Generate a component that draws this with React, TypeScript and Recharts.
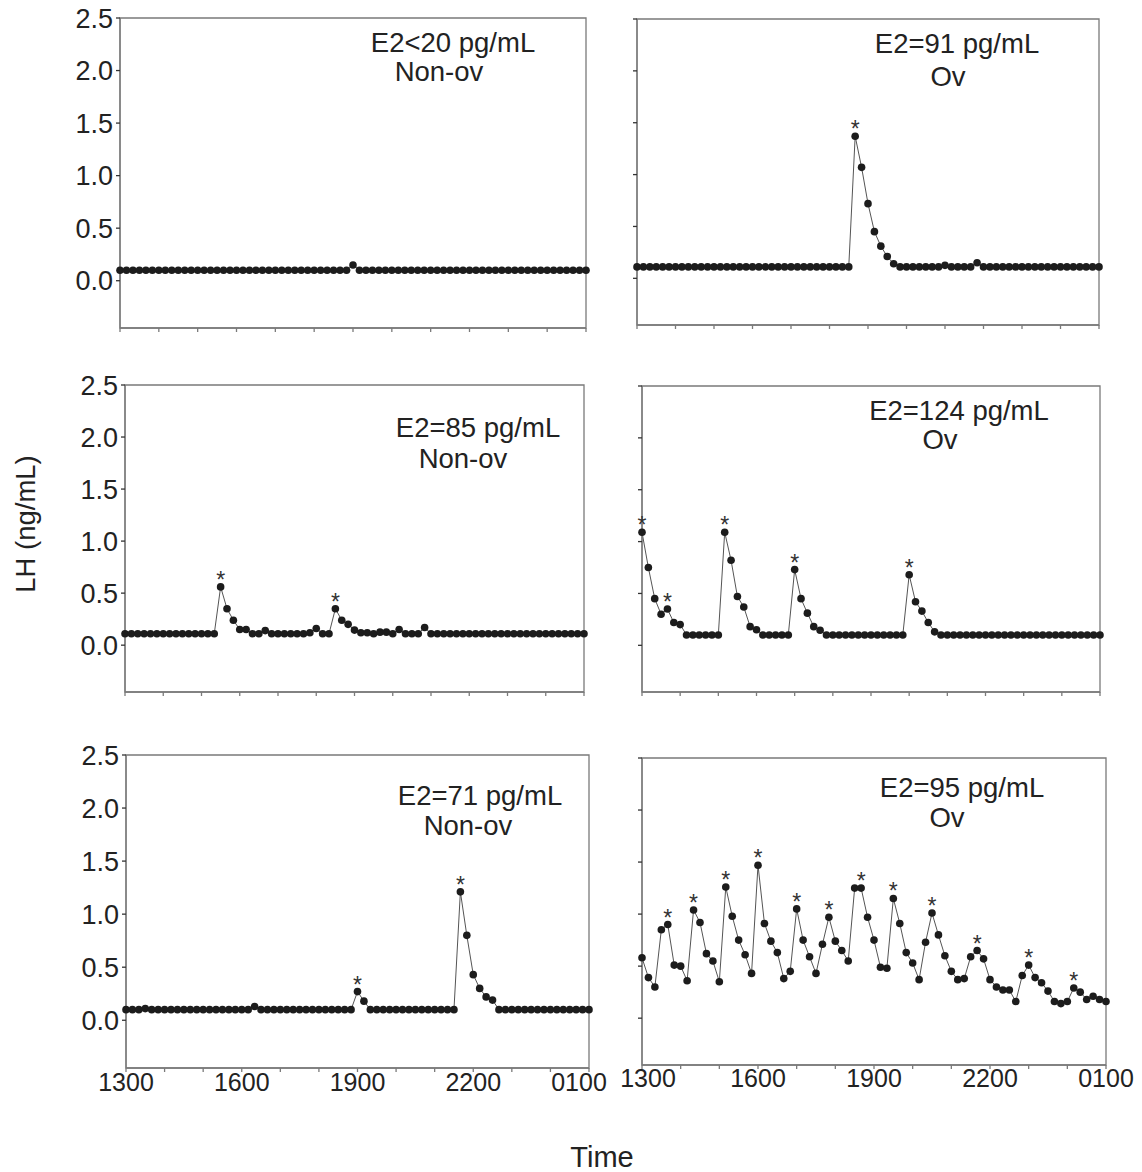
import { LabelList, Line, LineChart, ReferenceArea, XAxis, YAxis } from 'recharts'

// sampling every 10 min from 1300 to 0100
const sampleMinutes = [
  0, 10, 20, 30, 40, 50, 60, 70, 80, 90, 100, 110,
  120, 130, 140, 150, 160, 170, 180, 190, 200, 210, 220, 230,
  240, 250, 260, 270, 280, 290, 300, 310, 320, 330, 340, 350,
  360, 370, 380, 390, 400, 410, 420, 430, 440, 450, 460, 470,
  480, 490, 500, 510, 520, 530, 540, 550, 560, 570, 580, 590,
  600, 610, 620, 630, 640, 650, 660, 670, 680, 690, 700, 710,
  720,
]
const hourTicks = [0, 60, 120, 180, 240, 300, 360, 420, 480, 540, 600, 660, 720]
const hourLabels: Record<number, string> = { 0: '1300', 180: '1600', 360: '1900', 540: '2200', 720: '0100' }
const lhTicks = [0, 0.5, 1, 1.5, 2, 2.5]

const lhA = [
  0.1, 0.1, 0.1, 0.1, 0.1, 0.1, 0.1, 0.1, 0.1, 0.1, 0.1, 0.1,
  0.1, 0.1, 0.1, 0.1, 0.1, 0.1, 0.1, 0.1, 0.1, 0.1, 0.1, 0.1,
  0.1, 0.1, 0.1, 0.1, 0.1, 0.1, 0.1, 0.1, 0.1, 0.1, 0.1, 0.1,
  0.15, 0.1, 0.1, 0.1, 0.1, 0.1, 0.1, 0.1, 0.1, 0.1, 0.1, 0.1,
  0.1, 0.1, 0.1, 0.1, 0.1, 0.1, 0.1, 0.1, 0.1, 0.1, 0.1, 0.1,
  0.1, 0.1, 0.1, 0.1, 0.1, 0.1, 0.1, 0.1, 0.1, 0.1, 0.1, 0.1,
  0.1,
]
const lhB = [
  0.11, 0.11, 0.11, 0.11, 0.11, 0.11, 0.11, 0.11, 0.11, 0.11, 0.11, 0.11,
  0.11, 0.11, 0.11, 0.11, 0.11, 0.11, 0.11, 0.11, 0.11, 0.11, 0.11, 0.11,
  0.11, 0.11, 0.11, 0.11, 0.11, 0.11, 0.11, 0.11, 0.11, 0.11, 1.37, 1.07,
  0.72, 0.45, 0.31, 0.21, 0.14, 0.11, 0.11, 0.11, 0.11, 0.11, 0.11, 0.11,
  0.125, 0.11, 0.11, 0.11, 0.11, 0.15, 0.11, 0.11, 0.11, 0.11, 0.11, 0.11,
  0.11, 0.11, 0.11, 0.11, 0.11, 0.11, 0.11, 0.11, 0.11, 0.11, 0.11, 0.11,
  0.11,
]
const lhC = [
  0.11, 0.11, 0.11, 0.11, 0.11, 0.11, 0.11, 0.11, 0.11, 0.11, 0.11, 0.11,
  0.11, 0.11, 0.11, 0.56, 0.35, 0.24, 0.15, 0.15, 0.11, 0.11, 0.14, 0.11,
  0.11, 0.11, 0.11, 0.11, 0.11, 0.12, 0.16, 0.11, 0.11, 0.35, 0.24, 0.2,
  0.145, 0.12, 0.12, 0.11, 0.125, 0.125, 0.11, 0.15, 0.11, 0.11, 0.11, 0.17,
  0.11, 0.11, 0.11, 0.11, 0.11, 0.11, 0.11, 0.11, 0.11, 0.11, 0.11, 0.11,
  0.11, 0.11, 0.11, 0.11, 0.11, 0.11, 0.11, 0.11, 0.11, 0.11, 0.11, 0.11,
  0.11,
]
const lhD = [
  1.09, 0.75, 0.45, 0.3, 0.35, 0.22, 0.2, 0.1, 0.1, 0.1, 0.1, 0.1,
  0.1, 1.09, 0.82, 0.47, 0.37, 0.18, 0.15, 0.1, 0.1, 0.1, 0.1, 0.1,
  0.73, 0.45, 0.31, 0.18, 0.145, 0.1, 0.1, 0.1, 0.1, 0.1, 0.1, 0.1,
  0.1, 0.1, 0.1, 0.1, 0.1, 0.1, 0.68, 0.42, 0.33, 0.22, 0.13, 0.1,
  0.1, 0.1, 0.1, 0.1, 0.1, 0.1, 0.1, 0.1, 0.1, 0.1, 0.1, 0.1,
  0.1, 0.1, 0.1, 0.1, 0.1, 0.1, 0.1, 0.1, 0.1, 0.1, 0.1, 0.1,
  0.1,
]
const lhE = [
  0.1, 0.1, 0.1, 0.11, 0.1, 0.1, 0.1, 0.1, 0.1, 0.1, 0.1, 0.1,
  0.1, 0.1, 0.1, 0.1, 0.1, 0.1, 0.1, 0.1, 0.13, 0.1, 0.1, 0.1,
  0.1, 0.1, 0.1, 0.1, 0.1, 0.1, 0.1, 0.1, 0.1, 0.1, 0.1, 0.1,
  0.27, 0.18, 0.1, 0.1, 0.1, 0.1, 0.1, 0.1, 0.1, 0.1, 0.1, 0.1,
  0.1, 0.1, 0.1, 0.1, 1.21, 0.8, 0.43, 0.3, 0.22, 0.19, 0.1, 0.1,
  0.1, 0.1, 0.1, 0.1, 0.1, 0.1, 0.1, 0.1, 0.1, 0.1, 0.1, 0.1,
  0.1,
]
const lhF = [
  0.58, 0.39, 0.3, 0.85, 0.9, 0.51, 0.5, 0.36, 1.04, 0.92, 0.62, 0.55,
  0.35, 1.26, 0.98, 0.75, 0.61, 0.43, 1.47, 0.91, 0.74, 0.63, 0.38, 0.45,
  1.05, 0.75, 0.59, 0.43, 0.71, 0.97, 0.74, 0.65, 0.55, 1.25, 1.25, 0.97,
  0.75, 0.49, 0.48, 1.15, 0.91, 0.63, 0.53, 0.37, 0.73, 1.01, 0.8, 0.6,
  0.45, 0.37, 0.38, 0.59, 0.65, 0.57, 0.37, 0.3, 0.27, 0.27, 0.16, 0.41,
  0.51, 0.39, 0.34, 0.26, 0.16, 0.14, 0.16, 0.29, 0.25, 0.18, 0.21, 0.18,
  0.16,
]

// sample indices marked as pulses (*)
const pulsesA: number[] = []
const pulsesB = [34]
const pulsesC = [15, 33]
const pulsesD = [0, 4, 13, 24, 42]
const pulsesE = [36, 52]
const pulsesF = [4, 8, 13, 18, 24, 29, 34, 39, 45, 52, 60, 67]

const estradiolNotes = ['E2<20 pg/mL', 'E2=91 pg/mL', 'E2=85 pg/mL', 'E2=124 pg/mL', 'E2=71 pg/mL', 'E2=95 pg/mL']
const outcomeNotes = ['Non-ov', 'Ov', 'Non-ov', 'Ov', 'Non-ov', 'Ov']

const FONT = '"Liberation Sans", Arial, sans-serif'
const AXIS = '#7a7a7a'
const INK = '#222'
const Y_MIN = -0.45
const Y_MAX = 2.5

const panels = [
  { values: lhA, pulses: pulsesA, left: 120, top: 18, w: 466, h: 310, yText: true, xText: false, shift: {}, note: [453, 43], out: [439, 72] },
  { values: lhB, pulses: pulsesB, left: 637, top: 19, w: 462, h: 306, yText: false, xText: false, shift: {}, note: [957, 44], out: [948, 77] },
  { values: lhC, pulses: pulsesC, left: 125, top: 385, w: 459, h: 307, yText: true, xText: false, shift: {}, note: [478, 428], out: [463, 459] },
  { values: lhD, pulses: pulsesD, left: 642, top: 386, w: 458, h: 306, yText: false, xText: false, shift: {}, note: [959, 411], out: [940, 440] },
  { values: lhE, pulses: pulsesE, left: 126, top: 755, w: 463, h: 313, yText: true, xText: true, shift: { 720: -10 }, note: [480, 796], out: [468, 826] },
  { values: lhF, pulses: pulsesF, left: 642, top: 758, w: 464, h: 307, yText: false, xText: true, shift: { 0: 6 }, note: [962, 788], out: [947, 818] },
]

function PulseStar(props: any) {
  const x = props.x ?? props.viewBox?.x
  const y = props.y ?? props.viewBox?.y
  if (!props.value || x == null || y == null) return null
  return (
    <text x={x} y={y + 1} textAnchor="middle" fontSize={23} fill="#333" fontFamily={FONT}>
      *
    </text>
  )
}

type PanelProps = (typeof panels)[number]

function LhPanel({ values, pulses, left, top, w, h, yText, xText, shift }: PanelProps) {
  const data = sampleMinutes.map((t, i) => ({ t, lh: values[i], pulse: pulses.includes(i) ? '*' : '' }))
  const padL = 75
  const padT = 20
  const padR = 40
  const axisH = 40
  const offsets = shift as Record<number, number>

  const timeTick = (props: any) => {
    const v = props.payload?.value
    const label = xText ? hourLabels[v] : undefined
    if (!label) return <g />
    return (
      <text x={props.x + (offsets[v] ?? 0)} y={props.y} dy="0.71em" textAnchor="middle" fill={INK} fontSize={25} fontFamily={FONT}>
        {label}
      </text>
    )
  }

  return (
    <div style={{ position: 'absolute', left: left - padL, top: top - padT }}>
      <LineChart width={w + padL + padR} height={h + padT + axisH} data={data} margin={{ top: padT, right: padR, bottom: 0, left: 0 }}>
        <ReferenceArea x1={0} x2={720} y1={Y_MIN} y2={Y_MAX} fill="none" stroke={AXIS} strokeWidth={1.3} />
        <XAxis
          type="number"
          dataKey="t"
          domain={[0, 720]}
          ticks={hourTicks}
          interval={0}
          height={axisH}
          tickSize={4}
          tickMargin={left > 600 ? 0 : 1}
          axisLine={{ stroke: AXIS, strokeWidth: 1.3 }}
          tickLine={{ stroke: AXIS, strokeWidth: 1.3 }}
          tick={timeTick}
        />
        <YAxis
          type="number"
          domain={[Y_MIN, Y_MAX]}
          ticks={lhTicks}
          interval={0}
          width={padL}
          tickSize={4}
          tickMargin={3}
          tickFormatter={(v: number) => (yText ? v.toFixed(1) : '')}
          axisLine={{ stroke: AXIS, strokeWidth: 1.3 }}
          tickLine={{ stroke: '#333', strokeWidth: 1.3 }}
          tick={{ fill: INK, fontSize: 27, fontFamily: FONT }}
        />
        <Line
          type="linear"
          dataKey="lh"
          stroke="#555"
          strokeWidth={1}
          dot={{ r: 3.8, fill: '#1c1c1c', stroke: '#1c1c1c', strokeWidth: 0 }}
          activeDot={false}
          isAnimationActive={false}
        >
          <LabelList dataKey="pulse" content={PulseStar} />
        </Line>
      </LineChart>
    </div>
  )
}

const noteStyle = (x: number, y: number): React.CSSProperties => ({
  position: 'absolute',
  left: x,
  top: y,
  transform: 'translate(-50%, -50%)',
  whiteSpace: 'nowrap',
  fontFamily: FONT,
  fontSize: 27.5,
  lineHeight: 1,
  color: INK,
})

export default function App() {
  return (
    <div style={{ position: 'absolute', left: 0, top: 0, width: 1142, height: 1172, background: '#fff' }}>
      {panels.map((p, i) => (
        <LhPanel key={i} {...p} />
      ))}
      {panels.map((p, i) => (
        <div key={'n' + i}>
          <div style={noteStyle(p.note[0], p.note[1])}>{estradiolNotes[i]}</div>
          <div style={noteStyle(p.out[0], p.out[1])}>{outcomeNotes[i]}</div>
        </div>
      ))}
      <div style={{ ...noteStyle(26, 524), transform: 'translate(-50%, -50%) rotate(-90deg)' }}>LH (ng/mL)</div>
      <div style={{ ...noteStyle(602, 1157), fontSize: 29 }}>Time</div>
    </div>
  )
}
